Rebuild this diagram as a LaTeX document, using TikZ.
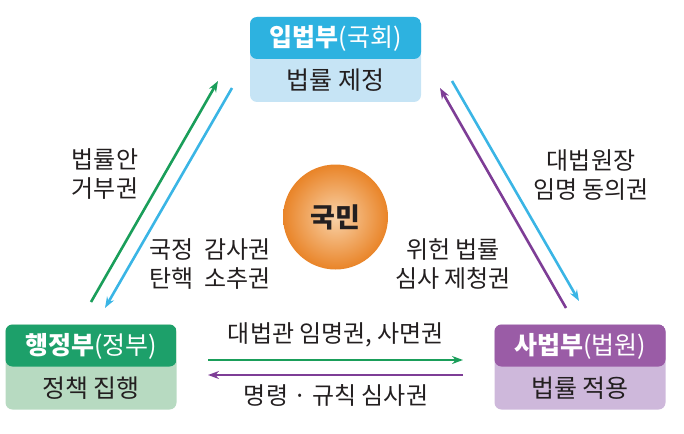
\documentclass[tikz,border=0pt]{standalone}
\usepackage{fontspec}
\setmainfont{Noto Sans CJK KR}
\usetikzlibrary{arrows.meta}
\definecolor{cyanH}{RGB}{45,178,224}
\definecolor{cyanB}{RGB}{198,228,245}
\definecolor{greenH}{RGB}{29,160,106}
\definecolor{greenB}{RGB}{183,218,193}
\definecolor{purpH}{RGB}{154,92,166}
\definecolor{purpB}{RGB}{206,184,219}
\definecolor{arrG}{RGB}{26,158,90}
\definecolor{arrB}{RGB}{58,181,229}
\definecolor{arrP}{RGB}{126,61,150}
\definecolor{txt}{RGB}{35,31,32}
\definecolor{orIn}{RGB}{249,210,168}
\definecolor{orOut}{RGB}{233,132,40}
\tikzset{
  branch/.style 2 args={fill=#2, rounded corners=7pt, minimum width=171pt, minimum height=85pt, inner sep=0pt,
    path picture={\fill[#1] (path picture bounding box.north west) rectangle ([yshift=-42pt]path picture bounding box.north east);}},
  headtxt/.style={text=white, font=\fontsize{25}{28}\selectfont, inner sep=0pt},
  bodytxt/.style={text=txt, font=\fontsize{25}{28}\selectfont, inner sep=0pt},
  lbl/.style={text=txt, font=\fontsize{24}{29}\selectfont, align=center, inner sep=0pt},
  arr/.style={line width=2.6pt, -{Stealth[length=11pt,width=8pt]}},
}
\begin{document}
\begin{tikzpicture}[x=1pt,y=-1pt]
\useasboundingbox (0,0) rectangle (684,433);
% boxes
\node[branch={cyanH}{cyanB}] (leg) at (335.5,59.5) {};
\node[branch={greenH}{greenB}] (exe) at (91,367) {};
\node[branch={purpH}{purpB}] (jud) at (580,367) {};
\node[headtxt] (legh) at (335.5,38) {\bfseries 입법부\mdseries(국회)};
\node[bodytxt] (legb) at (335.5,80) {법률 제정};
\node[headtxt] (exeh) at (91,346) {\bfseries 행정부\mdseries(정부)};
\node[bodytxt] (exeb) at (91,388) {정책 집행};
\node[headtxt] (judh) at (580,346) {\bfseries 사법부\mdseries(법원)};
\node[bodytxt] (judb) at (580,388) {법률 적용};
% people
\node[circle, minimum size=105pt, inner sep=0pt, inner color=orIn, outer color=orOut] (ppl) at (335.5,217) {};
\node[text=txt, font=\fontsize{27}{30}\selectfont\bfseries, inner sep=0pt] (pplt) at (ppl) {국민};
% arrow endpoints
\coordinate (g1s) at (91,302); \coordinate (g1e) at (218,81);
\coordinate (b1s) at (232,88); \coordinate (b1e) at (105,308);
\coordinate (b2s) at (452,81); \coordinate (b2e) at (579,301);
\coordinate (p2s) at (566,308); \coordinate (p2e) at (440,88);
\coordinate (g3s) at (208,360); \coordinate (g3e) at (463,360);
\coordinate (p3s) at (463,375); \coordinate (p3e) at (208,375);
\draw[arr, arrG] (g1s) -- (g1e);
\draw[arr, arrB] (b1s) -- (b1e);
\draw[arr, arrB] (b2s) -- (b2e);
\draw[arr, arrP] (p2s) -- (p2e);
\draw[arr, arrG] (g3s) -- (g3e);
\draw[arr, arrP] (p3s) -- (p3e);
% labels
\node[lbl] (l1) at (105,174) {법률안\\거부권};
\node[lbl] (l2) at (210,264) {국정\ \ 감사권\\탄핵\ \ 소추권};
\node[lbl] (l3) at (591,175) {대법원장\\임명\ 동의권};
\node[lbl] (l4) at (453,264) {위헌\ 법률\\심사\ 제청권};
\node[lbl] (l5) at (336,335) {대법관 임명권, 사면권};
\node[lbl] (l6) at (336,396) {명령 · 규칙 심사권};
\end{tikzpicture}
\end{document}
